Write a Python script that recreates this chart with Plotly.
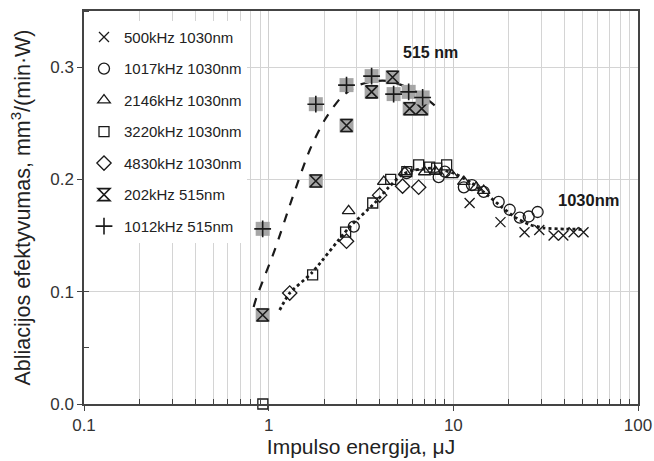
import plotly.graph_objects as go
import numpy as np

# ---- data ----
x_500 = [12.25, 18.0, 24.3, 29.2, 34.9, 39.4, 44.8, 50.7]
y_500 = [0.179, 0.162, 0.153, 0.155, 0.150, 0.150, 0.153, 0.153]

x_1017 = [2.89, 5.58, 8.33, 9.0, 11.4, 12.6, 14.6, 17.6, 20.2, 22.9, 25.6, 28.6]
y_1017 = [0.158, 0.2057, 0.202, 0.207, 0.193, 0.195, 0.189, 0.180, 0.173, 0.166, 0.167, 0.171]

x_2146 = [2.71, 4.20, 5.45, 7.0, 8.0, 9.8, 11.4, 13.3, 14.6]
y_2146 = [0.172, 0.198, 0.2066, 0.2066, 0.207, 0.204, 0.198, 0.193, 0.190]

x_3220 = [0.93, 1.73, 2.61, 3.66, 4.58, 5.6, 6.49, 7.44, 8.12, 9.2]
y_3220 = [0.0, 0.115, 0.153, 0.179, 0.200, 0.207, 0.213, 0.211, 0.210, 0.213]

x_4830 = [1.30, 2.64, 3.99, 5.31, 6.49]
y_4830 = [0.0988, 0.145, 0.186, 0.194, 0.193]

x_202 = [0.928, 1.80, 2.64, 3.61, 4.69, 5.80, 6.74]
y_202 = [0.0793, 0.1986, 0.248, 0.278, 0.291, 0.263, 0.263]

x_1012 = [0.928, 1.80, 2.64, 3.61, 4.75, 5.73, 6.82]
y_1012 = [0.156, 0.267, 0.284, 0.292, 0.276, 0.278, 0.273]

# trend lines
x_tr515 = [0.829, 0.861, 1.078, 1.332, 1.667, 2.01, 2.48, 3.07, 3.75, 4.47, 5.25, 6.49, 7.92]
y_tr515 = [0.0864, 0.0953, 0.137, 0.1817, 0.226, 0.2529, 0.2734, 0.284, 0.2876, 0.2876, 0.284, 0.277, 0.266]

x_tr1030 = [1.147, 1.30, 1.71, 2.71, 3.75, 4.47, 5.25, 6.17, 7.92, 10.2, 12.56, 15.5, 18.3, 21.5, 25.6, 31.2, 40.1, 51.4]
y_tr1030 = [0.0837, 0.0988, 0.1167, 0.1567, 0.179, 0.193, 0.204, 0.2084, 0.210, 0.205, 0.1968, 0.1853, 0.1754, 0.1665, 0.1600, 0.1567, 0.1558, 0.1555]

x_ticks = [0.1, 1, 10, 100]
x_ticklabels = ["0.1", "1", "10", "100"]
y_ticks = [0.0, 0.1, 0.2, 0.3]
y_ticklabels = ["0.0", "0.1", "0.2", "0.3"]

FONT = "Arial, Liberation Sans, sans-serif"
BLK = "#1a1a1a"
GRAY_BOX = "#a6a6a6"

fig = go.Figure()

fig.add_trace(go.Scatter(x=x_tr515, y=y_tr515, mode="lines",
                         line=dict(color=BLK, width=2.2, dash="dash", shape="spline", smoothing=0.7),
                         showlegend=False, hoverinfo="skip"))
fig.add_trace(go.Scatter(x=x_tr1030, y=y_tr1030, mode="lines",
                         line=dict(color=BLK, width=2.8, dash="dot", shape="spline", smoothing=0.6),
                         showlegend=False, hoverinfo="skip"))


def add_open(x, y, name, symbol, size=10):
    fig.add_trace(go.Scatter(x=x, y=y, mode="markers", name=name, legendgroup=name, cliponaxis=False,
                             marker=dict(symbol=symbol, size=size, color=BLK,
                                         line=dict(color=BLK, width=1.3))))


add_open(x_500, y_500, "500kHz 1030nm", "x-thin-open", 10)
add_open(x_1017, y_1017, "1017kHz 1030nm", "circle-open", 11)
add_open(x_2146, y_2146, "2146kHz 1030nm", "triangle-up-open", 11)
add_open(x_3220, y_3220, "3220kHz 1030nm", "square-open", 10)
add_open(x_4830, y_4830, "4830kHz 1030nm", "diamond-open", 11)

# 515 nm series: grey square background + black symbol
for xs, ys, name, sym in [(x_202, y_202, "202kHz 515nm", "hourglass-open"),
                          (x_1012, y_1012, "1012kHz 515nm", "cross-thin-open")]:
    fig.add_trace(go.Scatter(x=xs, y=ys, mode="markers", showlegend=False, hoverinfo="skip",
                             legendgroup=name,
                             marker=dict(symbol="square", size=14, color=GRAY_BOX, line=dict(width=0))))
    fig.add_trace(go.Scatter(x=xs, y=ys, mode="markers", name=name, legendgroup=name,
                             marker=dict(symbol=sym, size=12, color=BLK, line=dict(color=BLK, width=1.6))))

fig.add_annotation(x=np.log10(7.5), y=0.3126, text="<b>515 nm</b>", showarrow=False,
                   font=dict(family=FONT, size=16, color=BLK))
fig.add_annotation(x=np.log10(54.0), y=0.1817, text="<b>1030nm</b>", showarrow=False,
                   font=dict(family=FONT, size=16.5, color=BLK))

fig.update_layout(
    width=654, height=461,
    margin=dict(l=84, r=16, t=11, b=57, autoexpand=False),
    paper_bgcolor="white", plot_bgcolor="white",
    font=dict(family=FONT, color="#222"),
    legend=dict(x=0.0, y=0.975, xanchor="left", yanchor="top", bgcolor="white",
                font=dict(family=FONT, size=15, color="#222"), tracegroupgap=9,
                itemwidth=30),
    showlegend=True,
)

minor_x = []
for d in [0.1, 1, 10]:
    minor_x += [d * k for k in range(2, 10)]

fig.update_xaxes(type="log", range=[-1, 2], tickvals=x_ticks, ticktext=x_ticklabels,
                 automargin=False,
                 showgrid=True, gridcolor="#cfcfcf", gridwidth=1,
                 ticks="outside", ticklen=5, tickcolor="#444",
                 showline=True, linecolor="#444", linewidth=1.5, mirror=True,
                 tickfont=dict(family=FONT, size=17, color="#333"),
                 minor=dict(tickvals=minor_x, showgrid=True, gridcolor="#d4d4d4", gridwidth=1,
                            ticks="inside", ticklen=5, tickcolor="#444"),
                 title=dict(text="Impulso energija, μJ", font=dict(family=FONT, size=21, color="#222"), standoff=4),
                 zeroline=False)
fig.update_yaxes(range=[0, 0.35], tickvals=y_ticks, ticktext=y_ticklabels,
                 automargin=False,
                 showgrid=True, gridcolor="#d4d4d4", gridwidth=1,
                 ticks="outside", ticklen=5, tickcolor="#444",
                 showline=True, linecolor="#444", linewidth=1.5, mirror=True,
                 tickfont=dict(family=FONT, size=17, color="#333"),
                 minor=dict(dtick=0.05, ticks="inside", ticklen=5, tickcolor="#444", showgrid=False),
                 title=dict(text="Abliacijos efektyvumas, mm<sup>3</sup>/(min·W)",
                            font=dict(family=FONT, size=21.5, color="#222"), standoff=14),
                 zeroline=False)

fig.write_html("out.html")
